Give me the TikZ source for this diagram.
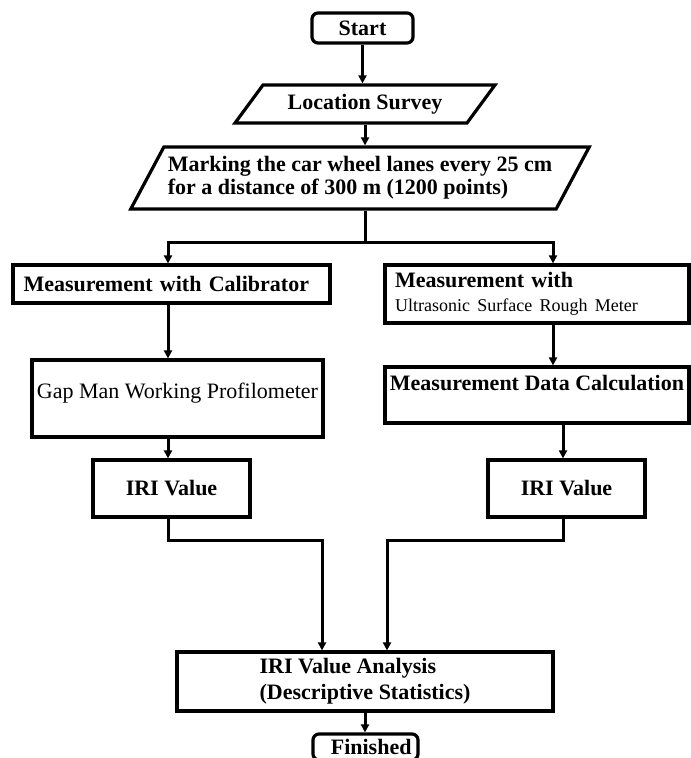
\documentclass[tikz,border=0pt]{standalone}
\usepackage{fontspec}
\setmainfont{Liberation Serif}
\usetikzlibrary{arrows.meta, shapes.geometric}
\tikzset{
  box/.style={draw, line width=1.6pt, align=center, font=\fontsize{11}{12}\selectfont\bfseries, inner sep=2pt},
  term/.style={box, rounded corners=3pt},
  io/.style={box, trapezium, trapezium stretches body, align=left},
  arr/.style={-{Triangle[length=4pt, width=4pt]}, line width=1.5pt},
  wire/.style={line width=1.5pt}
}

\begin{document}
\begin{tikzpicture}[x=0.5pt, y=-0.5pt]
    \useasboundingbox (0,0) rectangle (690,758);
    \node[term, minimum width=50.5pt, minimum height=15pt] (start) at (362.5,28) {Start};
    \node[io, trapezium left angle=45, trapezium right angle=135, minimum width=130pt, minimum height=19pt] (survey) at (365,104) {Location Survey};
    \node[io, trapezium left angle=57, trapezium right angle=123, minimum width=228pt, minimum height=31pt, font=\fontsize{11}{11.5}\selectfont\bfseries] (marking) at (360,178) {Marking the car wheel lanes every 25 cm\\for a distance of 300 m (1200 points)};
    \node[box, minimum width=158.5pt, minimum height=19pt, text width=148pt, align=left] (calib) at (171.5,284) {Measurement with Calibrator};
    \node[box, minimum width=152pt, minimum height=29pt, text width=142pt, align=left] (ultra) at (537,294) {Measurement with\\{\fontsize{9}{12}\selectfont\mdseries Ultrasonic Surface Rough Meter}};
    \node[box, minimum width=145.5pt, minimum height=38.5pt, text depth=7.4pt, font=\fontsize{11}{12}\selectfont] (gap) at (177.5,398.5) {Gap Man Working Profilometer};
    \node[box, minimum width=152pt, minimum height=28pt, text depth=12.5pt] (calc) at (537,395) {Measurement Data Calculation};
    \node[box, minimum width=78.5pt, minimum height=28.5pt] (iri1) at (171.5,488.5) {IRI Value};
    \node[box, minimum width=78.5pt, minimum height=28.5pt] (iri2) at (566.5,488.5) {IRI Value};
    \node[box, minimum width=188pt, minimum height=29.5pt, align=left, font=\fontsize{11}{13}\selectfont\bfseries] (analysis) at (365,681.5) {IRI Value Analysis\\(Descriptive Statistics)};
    \node[term, minimum width=52.5pt, minimum height=13pt, text width=46pt, align=right] (finished) at (365.5,747) {Finished};

    \coordinate (split) at (365,243);
    \coordinate (lcol) at (168,243);
    \coordinate (rcol) at (553,243);
    \coordinate (rcol2) at (563,243);
    \coordinate (ljoin) at (322,540);
    \coordinate (rjoin) at (387,540);

    \draw[arr] (start.south) -- (start.south |- survey.north);
    \draw[arr] (survey.south) -- (survey.south |- marking.north);
    \draw[wire] (marking.south -| split) -- (split);
    \draw[arr] (split) -| (lcol |- calib.north);
    \draw[arr] (split) -| (rcol |- ultra.north);
    \draw[arr] (lcol |- calib.south) -- (lcol |- gap.north);
    \draw[arr] (lcol |- gap.south) -- (lcol |- iri1.north);
    \draw[arr] (rcol |- ultra.south) -- (rcol |- calc.north);
    \draw[arr] (rcol2 |- calc.south) -- (rcol2 |- iri2.north);
    \draw[arr] (lcol |- iri1.south) |- (ljoin) -- (ljoin |- analysis.north);
    \draw[arr] (rcol2 |- iri2.south) |- (rjoin) -- (rjoin |- analysis.north);
    \draw[arr] (analysis.south) -- (analysis.south |- finished.north);
  \end{tikzpicture}
\end{document}
